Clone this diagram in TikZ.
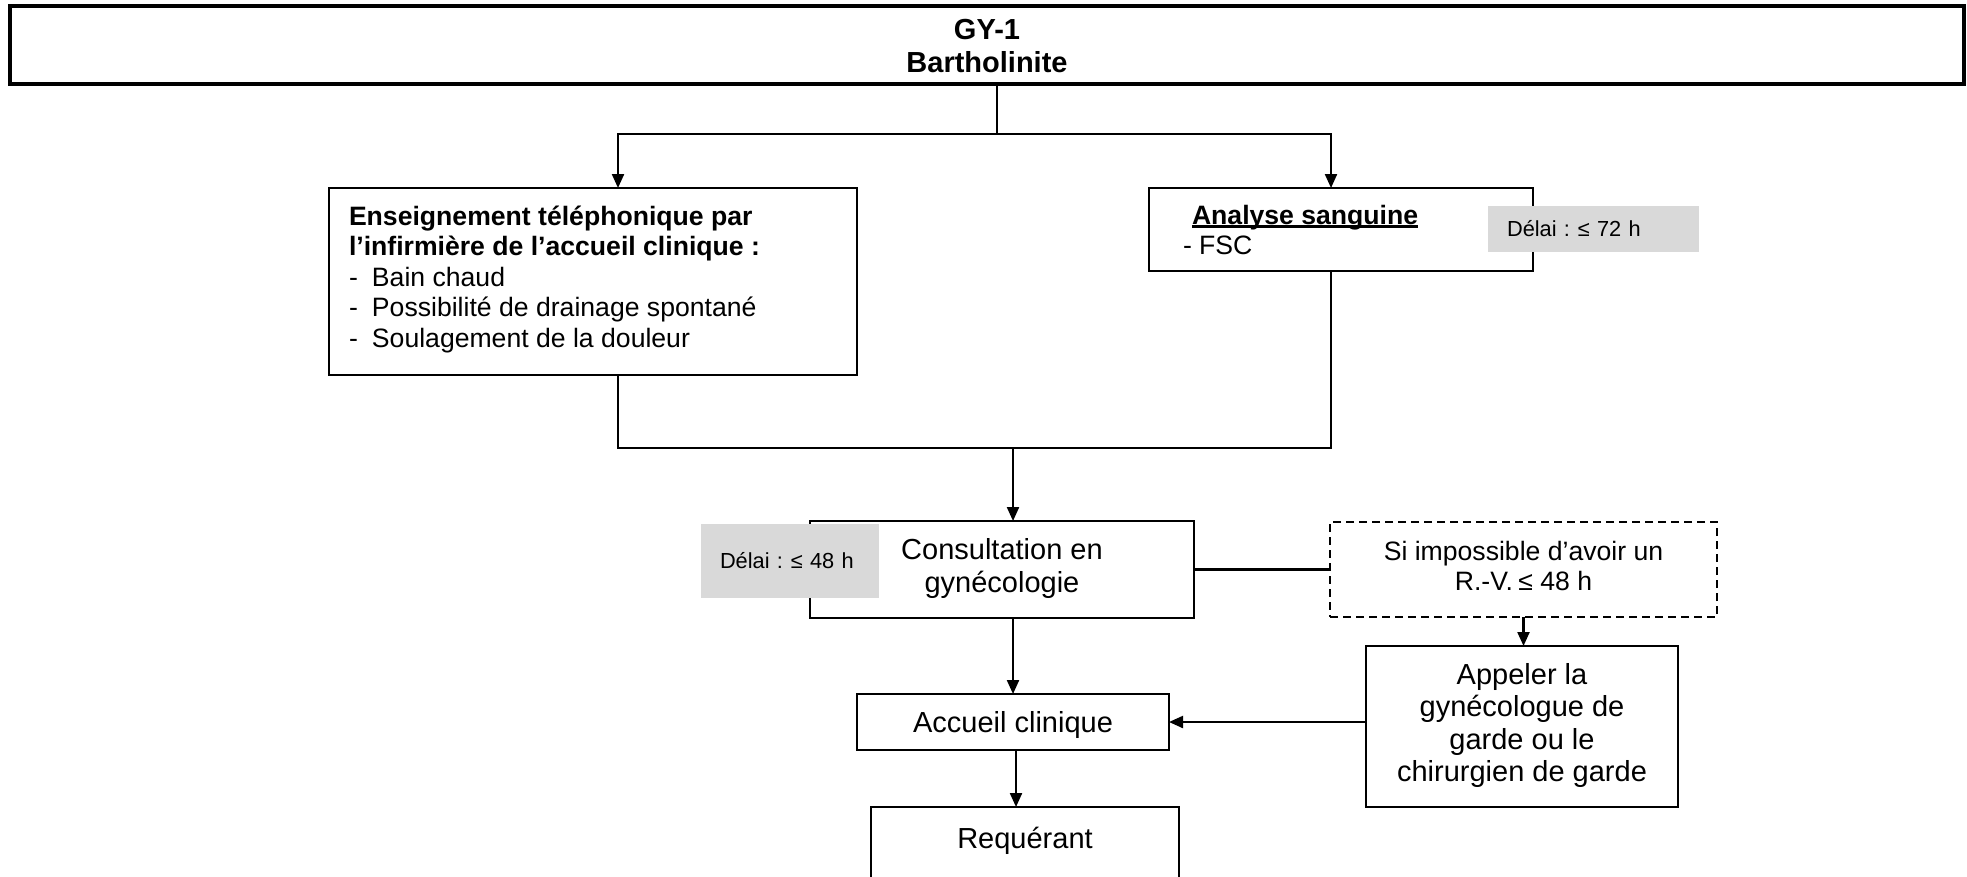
\documentclass[tikz,border=0pt]{standalone}
\usepackage{fontspec}
\setmainfont{Liberation Sans}
\usetikzlibrary{arrows.meta}
\definecolor{delaygray}{RGB}{217,217,217}

% thick underline for the bold heading of the blood-test box
\newsavebox\thickulbox
\newcommand{\thickunder}[1]{\sbox\thickulbox{#1}\rlap{\rule[-3.5pt]{\wd\thickulbox}{2.2pt}}\usebox\thickulbox}
% "less or equal" sign with its wide left bearing tightened
\newcommand{\leqsym}{\kern-3pt≤}

\begin{document}
\begin{tikzpicture}[x=1pt,y=-1pt,
  box/.style={draw, line width=2.2pt, inner sep=0pt, outer sep=0pt, anchor=north west},
  condbox/.style={box, dash pattern=on 8pt off 5pt},
  delay/.style={fill=delaygray, draw=none, outer sep=0pt, anchor=north west,
                inner xsep=19pt, inner ysep=0pt, align=left, f9},
  link/.style={line width=2.2pt},
  arr/.style={link, -{Triangle[length=14pt,width=12pt]}},
  f12/.style={font=\fontsize{29}{33.3}\selectfont},
  f12b/.style={font=\fontsize{29}{33.3}\selectfont\bfseries},
  f11/.style={font=\fontsize{26.6}{30.6}\selectfont},
  f9/.style={font=\fontsize{21.8}{25}\selectfont},
  txt/.style={inner sep=0pt, outer sep=0pt},
]
\useasboundingbox (0,0) rectangle (1967,876);
\fill[white] (0,0) rectangle (1967,876);
\clip (0,0) rectangle (1967,876);

% header
\node[box, line width=4.5pt, minimum width=1954pt, minimum height=78pt] (title) at (10,6) {};
\node[txt, f12b] (titletxt) at (987,49)
  {\begin{tabular}{@{}c@{}}GY-1\\Bartholinite\end{tabular}};

% first level: phone teaching and blood test
\node[box, minimum width=528pt, minimum height=187pt] (teach) at (329,188) {};
\node[txt, f11, anchor=base west] (teachtxt) at (349,225)
  {\begin{tabular}[t]{@{}l@{}}
   \textbf{Enseignement téléphonique par}\\
   \textbf{l’infirmière de l’accueil clinique :}\\
   \makebox[23pt][l]{-}Bain chaud\\
   \makebox[23pt][l]{-}Possibilité de drainage spontané\\
   \makebox[23pt][l]{-}Soulagement de la douleur
   \end{tabular}};

\node[box, minimum width=384pt, minimum height=83pt] (blood) at (1149,188) {};
\node[txt, f11, anchor=base west] (bloodtxt) at (1183,224)
  {\begin{tabular}[t]{@{}l@{}}
   \hspace{9pt}\thickunder{\textbf{Analyse sanguine}}\\
   - FSC
   \end{tabular}};

% consultation level
\node[box, minimum width=384pt, minimum height=97pt, f12] (consult) at (810,521)
  {\begin{tabular}{@{}c@{}}Consultation en\\gynécologie\end{tabular}};

\node[condbox, minimum width=387pt, minimum height=95pt, f11] (cond) at (1330,522)
  {\begin{tabular}{@{}c@{}}Si impossible d’avoir un\\R.-V. {\kern-2pt≤} 48 h\end{tabular}};

\node[box, minimum width=312pt, minimum height=161pt,
      font=\fontsize{29}{32.3}\selectfont] (call) at (1366,646)
  {\begin{tabular}{@{}c@{}}Appeler la\\gynécologue de\\garde ou le\\chirurgien de garde\end{tabular}};

\node[box, minimum width=312pt, minimum height=56pt, f12, text depth=0pt] (accueil) at (857,694) {Accueil clinique};

\node[box, minimum width=308pt, minimum height=110pt] (req) at (871,807) {};
\node[txt, f12] (reqtxt) at (1025,841) {Requérant};

% connectors
\coordinate (split) at (997,134);
\coordinate (merge) at (1013,448);
\draw[link] (title.south -| split) -- (split);
\draw[arr] (split) -| ([xshift=25pt]teach.north);
\draw[arr] (split) -| ([xshift=-10pt]blood.north);
\draw[link] ([xshift=25pt]teach.south) |- (merge) -| ([xshift=-10pt]blood.south);
\draw[arr] (merge) -- (merge |- consult.north);
\draw[link] (consult.east) -- (cond.west);
\draw[arr] (cond.south) -- (cond.south |- call.north);
\draw[arr] (call.west |- accueil.east) -- (accueil.east);
\draw[arr] (consult.south -| accueil.north) -- (accueil.north);
\draw[arr] ([xshift=3pt]accueil.south) -- ([xshift=3pt]accueil.south |- req.north);

% delay tags sit on top of the box borders
\node[delay, minimum height=46pt, text width=173pt] (delay72) at (1488,206) {Délai : \leqsym{} 72 h};
\node[delay, minimum height=74pt, text width=140pt] (delay48) at (701,524) {Délai : \leqsym{} 48 h};
\end{tikzpicture}
\end{document}
